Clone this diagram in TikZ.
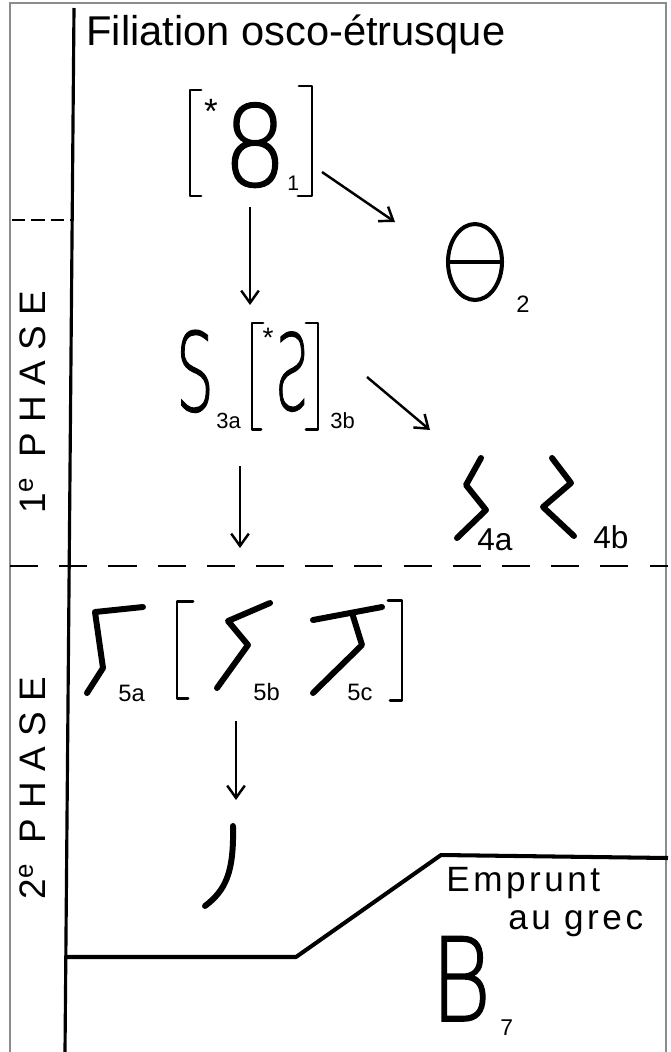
\documentclass[tikz,border=0pt]{standalone}
\usepackage{fontspec}
\setmainfont{Liberation Sans}
\newfontfamily\signfont{DejaVu Sans ExtraLight}[FakeBold=1.3]
\newfontfamily\phasefont{Liberation Sans}[LetterSpace=28]
\newfontfamily\handfont{Liberation Sans}[LetterSpace=10]
\usepackage{graphicx}
\usetikzlibrary{arrows.meta, shapes.geometric}
\newcommand{\fsz}[1]{\fontsize{#1}{#1}\selectfont}

\begin{document}
\begin{tikzpicture}[
    x=0.02cm, y=-0.02cm,
    >={Straight Barb[length=7pt, width=10pt]},
    pen/.style={line width=1.7pt, line cap=round, line join=round},
    heavy/.style={line width=3.4pt, line cap=round, line join=round},
    arrow/.style={->, line width=1.4pt},
    sign/.style={inner sep=0pt, anchor=base},
    sub/.style={inner sep=0pt, anchor=base west},
    phase/.style={rotate=90, inner sep=0pt, anchor=base, font=\phasefont\fsz{21}},
]
\useasboundingbox (0,0) rectangle (671,1052);

% === frame, axis, phase limits ===
\draw[black!45, line width=0.6pt] (10,1052) -- (10,3) -- (666,3) -- (666,1052);
\draw[line width=1.8pt] (74,8) -- (65,1052);
\draw[line width=1.6pt, dash pattern=on 7.5pt off 3.5pt] (12,220) -- (72,220);
\draw[line width=1.6pt, dash pattern=on 16pt off 12pt] (10,566) -- (668,566);

\node[sub, font=\fsz{23.7}] (title) at (86,45) {Filiation osco-étrusque};
\node[phase] (ph1) at (46,402) {1\textsuperscript{e} PHASE};
\node[phase] (ph2) at (46,788) {2\textsuperscript{e} PHASE};

% === 1 ===
\draw[pen] (201,90) -- (190,90) -- (190,196) -- (201,196);
\node[sign, font=\fsz{20}] (star1) at (211,123) {*};
\node[sign] (s1) at (255,186) {\signfont\fsz{64}\scalebox{0.9}[1]{8}};
\node[sub, font=\fsz{12}] (l1) at (287,190) {1};
\draw[pen] (299,86) -- (312,86) -- (312,196) -- (298,196);

% === 2 ===
\node[ellipse, draw, line width=2.3pt, inner sep=0pt,
      minimum width=1.08cm, minimum height=1.52cm] (s2) at (475,262) {};
\draw[line width=2.3pt] (s2.west) -- (s2.east);
\node[sub, font=\fsz{13.5}] (l2) at (516,312) {2};

\coordinate (a1b) at (322,172);
\coordinate (a1e) at (395,222);
\coordinate (a2b) at (250,207);
\coordinate (a2e) at (250,305);
\draw[arrow] (a1b) -- (a1e);
\draw[arrow] (a2b) -- (a2e);

% === 3a / 3b ===
\node[sign] (s3a) at (195,411) {\signfont\fsz{62}\scalebox{0.55}[1]{S}};
\node[sub, font=\fsz{12.5}] (l3a) at (216,428) {3a};
\draw[pen] (263,323) -- (252,323) -- (252,429) -- (261,429);
\node[sign, font=\fsz{16}] (star2) at (268,347) {*};
\node[sign] (s3b) at (292,410) {\signfont\fsz{60}\scalebox{-0.5}[1]{S}};
\draw[pen] (306,323) -- (318,323) -- (318,429) -- (306,429);
\node[sub, font=\fsz{12.5}] (l3b) at (330,428) {3b};

\coordinate (a3b) at (367,377);
\coordinate (a3e) at (430,430);
\draw[arrow] (a3b) -- (a3e);

% === 4a / 4b ===
\draw[heavy] (481,458) -- (466,485) -- (486,510) -- (457,538);
\node[sub, font=\fsz{18}] (l4a) at (477,550) {4a};
\draw[heavy] (552,458) -- (571,483) -- (543,507) -- (574,536);
\node[sub, font=\fsz{18}] (l4b) at (593,548) {4b};

\coordinate (a4b) at (240,466);
\coordinate (a4e) at (240,548);
\draw[arrow] (a4b) -- (a4e);

% === 5a / 5b / 5c ===
\draw[heavy] (143,607) -- (95,612) -- (103,668) -- (87,693);
\node[sub, font=\fsz{13.5}] (l5a) at (118,701) {5a};
\draw[pen] (193,601) -- (177,601) -- (177,698) -- (188,698);
\draw[heavy] (270,603) -- (228,621) -- (248,645) -- (217,688);
\node[sub, font=\fsz{13.5}] (l5b) at (253,700) {5b};
\draw[heavy] (313,620) -- (382,607);
\draw[heavy] (353,616) -- (362,645) -- (313,693);
\node[sub, font=\fsz{13.5}] (l5c) at (347,700) {5c};
\draw[pen] (388,600) -- (402,600) -- (402,700) -- (390,700);

\coordinate (a5b) at (236,721);
\coordinate (a5e) at (236,800);
\draw[arrow] (a5b) -- (a5e);

% === 6 ===
\draw[heavy] (233,826) .. controls (234,872) and (226,890) .. (205,906);

% === 7 : emprunt au grec ===
\draw[line width=2.3pt, line join=round] (66,957) -- (296,957) -- (441,855) -- (668,858);
\node[sub, font=\handfont\fsz{20}] (emp) at (446,891) {Emprunt};
\node[sub, font=\handfont\fsz{20}] (grec) at (508,929) {au grec};
\node[sign] (s7) at (461,1021) {\signfont\fsz{66}\scalebox{0.8}[1]{B}};
\node[sub, font=\fsz{13}] (l7) at (500,1035) {7};

\end{tikzpicture}
\end{document}
